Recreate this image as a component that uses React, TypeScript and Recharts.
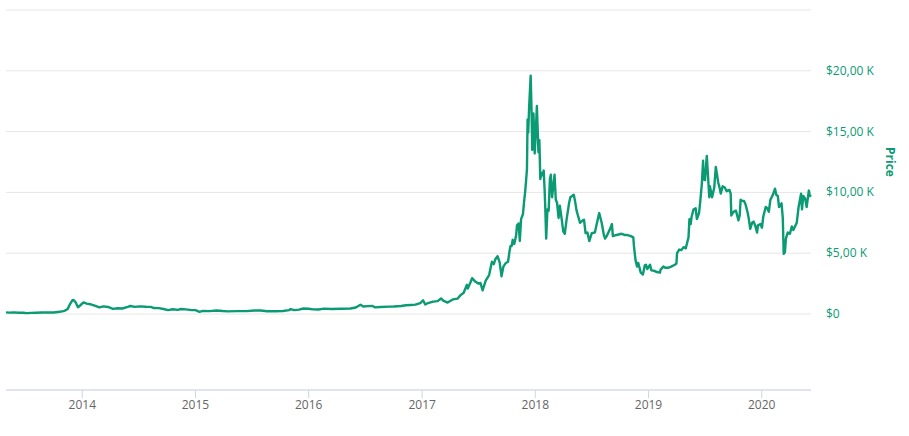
import { LineChart, Line, XAxis, YAxis, CartesianGrid, Label } from 'recharts';

const GREEN = '#0a9a74';
const FONT = '"Open Sans", sans-serif';

// daily-ish closing prices (USD)
const dates = [
  '2013-04-30', '2013-05-10', '2013-05-25', '2013-06-10', '2013-06-25', '2013-07-05', '2013-07-20', '2013-08-05',
  '2013-08-25', '2013-09-15', '2013-10-01', '2013-10-20', '2013-11-05', '2013-11-15', '2013-11-22', '2013-11-30',
  '2013-12-04', '2013-12-10', '2013-12-18', '2013-12-25', '2014-01-05', '2014-01-15', '2014-01-28', '2014-02-10',
  '2014-02-25', '2014-03-10', '2014-03-25', '2014-04-10', '2014-04-25', '2014-05-10', '2014-05-28', '2014-06-05',
  '2014-06-20', '2014-07-05', '2014-07-25', '2014-08-10', '2014-08-20', '2014-09-05', '2014-09-20', '2014-10-05',
  '2014-10-20', '2014-11-05', '2014-11-15', '2014-12-01', '2014-12-20', '2015-01-01', '2015-01-14', '2015-01-25',
  '2015-02-15', '2015-03-10', '2015-03-30', '2015-04-15', '2015-05-15', '2015-06-15', '2015-07-10', '2015-07-30',
  '2015-08-20', '2015-09-15', '2015-10-10', '2015-10-30', '2015-11-04', '2015-11-15', '2015-12-01', '2015-12-15',
  '2016-01-01', '2016-01-15', '2016-02-01', '2016-02-20', '2016-03-15', '2016-04-15', '2016-05-15', '2016-06-01',
  '2016-06-16', '2016-06-25', '2016-07-10', '2016-07-25', '2016-08-02', '2016-08-20', '2016-09-15', '2016-10-01',
  '2016-10-25', '2016-11-10', '2016-11-25', '2016-12-10', '2016-12-26', '2017-01-04', '2017-01-11', '2017-01-20',
  '2017-02-05', '2017-02-20', '2017-03-03', '2017-03-10', '2017-03-24', '2017-04-10', '2017-04-25', '2017-05-05',
  '2017-05-15', '2017-05-25', '2017-05-28', '2017-06-05', '2017-06-11', '2017-06-20', '2017-07-01', '2017-07-08',
  '2017-07-15', '2017-07-25', '2017-08-05', '2017-08-14', '2017-08-20', '2017-08-25', '2017-09-01', '2017-09-08',
  '2017-09-14', '2017-09-20', '2017-09-28', '2017-10-05', '2017-10-10', '2017-10-13', '2017-10-17', '2017-10-20',
  '2017-10-25', '2017-10-31', '2017-11-03', '2017-11-08', '2017-11-12', '2017-11-16', '2017-11-22', '2017-11-26',
  '2017-11-29', '2017-12-02', '2017-12-05', '2017-12-07', '2017-12-09', '2017-12-12', '2017-12-17', '2017-12-20',
  '2017-12-22', '2017-12-26', '2017-12-30', '2018-01-02', '2018-01-06', '2018-01-09', '2018-01-11', '2018-01-14',
  '2018-01-17', '2018-01-21', '2018-01-24', '2018-01-28', '2018-01-31', '2018-02-02', '2018-02-05', '2018-02-09',
  '2018-02-13', '2018-02-17', '2018-02-20', '2018-02-24', '2018-03-04', '2018-03-08', '2018-03-12', '2018-03-17',
  '2018-03-21', '2018-03-27', '2018-04-01', '2018-04-06', '2018-04-12', '2018-04-20', '2018-04-24', '2018-05-05',
  '2018-05-09', '2018-05-14', '2018-05-25', '2018-06-03', '2018-06-07', '2018-06-12', '2018-06-18', '2018-06-24',
  '2018-07-02', '2018-07-12', '2018-07-18', '2018-07-26', '2018-08-03', '2018-08-10', '2018-08-14', '2018-08-19',
  '2018-08-30', '2018-09-05', '2018-09-08', '2018-09-20', '2018-10-06', '2018-10-15', '2018-10-23', '2018-11-05',
  '2018-11-13', '2018-11-15', '2018-11-20', '2018-11-25', '2018-11-29', '2018-12-07', '2018-12-14', '2018-12-20',
  '2018-12-24', '2018-12-28', '2019-01-06', '2019-01-10', '2019-01-20', '2019-01-28', '2019-02-07', '2019-02-09',
  '2019-02-18', '2019-02-24', '2019-03-05', '2019-03-15', '2019-03-27', '2019-04-01', '2019-04-03', '2019-04-10',
  '2019-04-17', '2019-04-24', '2019-05-01', '2019-05-05', '2019-05-10', '2019-05-13', '2019-05-17', '2019-05-20',
  '2019-05-26', '2019-06-02', '2019-06-06', '2019-06-13', '2019-06-17', '2019-06-22', '2019-06-26', '2019-06-28',
  '2019-07-02', '2019-07-08', '2019-07-16', '2019-07-18', '2019-07-25', '2019-08-01', '2019-08-06', '2019-08-14',
  '2019-08-19', '2019-08-22', '2019-08-28', '2019-09-04', '2019-09-10', '2019-09-19', '2019-09-23', '2019-09-25',
  '2019-10-02', '2019-10-10', '2019-10-18', '2019-10-22', '2019-10-25', '2019-10-29', '2019-11-05', '2019-11-10',
  '2019-11-16', '2019-11-20', '2019-11-25', '2019-12-01', '2019-12-06', '2019-12-12', '2019-12-17', '2019-12-20',
  '2019-12-28', '2020-01-02', '2020-01-06', '2020-01-14', '2020-01-19', '2020-01-24', '2020-01-29', '2020-02-06',
  '2020-02-13', '2020-02-17', '2020-02-22', '2020-02-26', '2020-03-05', '2020-03-09', '2020-03-12', '2020-03-16',
  '2020-03-19', '2020-03-25', '2020-04-01', '2020-04-07', '2020-04-12', '2020-04-23', '2020-04-29', '2020-05-07',
  '2020-05-10', '2020-05-14', '2020-05-20', '2020-05-25', '2020-06-01', '2020-06-04', '2020-06-08',
];

const prices = [
  135, 115, 130, 105, 100, 70, 90, 105,
  120, 128, 125, 180, 260, 420, 800, 1130,
  1150, 980, 560, 700, 950, 850, 800, 680,
  540, 630, 580, 420, 470, 450, 580, 660,
  590, 630, 600, 590, 490, 480, 410, 320,
  390, 340, 410, 380, 320, 315, 180, 260,
  235, 290, 245, 220, 237, 240, 290, 285,
  230, 230, 245, 320, 400, 320, 360, 450,
  430, 380, 375, 440, 415, 430, 455, 535,
  760, 620, 650, 655, 545, 580, 610, 615,
  655, 715, 740, 770, 900, 1130, 780, 900,
  1020, 1060, 1280, 1100, 940, 1200, 1260, 1550,
  1750, 2400, 2100, 2550, 2950, 2700, 2500, 2550,
  1950, 2750, 3200, 4300, 4100, 4500, 4750, 4250,
  3100, 3900, 4200, 4300, 5200, 5600, 5600, 6100,
  5750, 6450, 7300, 7450, 6000, 7800, 8200, 9300,
  10000, 10900, 11900, 16000, 14900, 17000, 19600, 16500,
  13500, 16500, 13200, 14700, 17100, 14900, 13300, 14300,
  11100, 11600, 11400, 11800, 10200, 8800, 6200, 8600,
  8500, 11100, 11450, 9600, 11450, 9400, 9150, 7900,
  8900, 7800, 6800, 6600, 7800, 9150, 9600, 9800,
  9300, 8500, 7500, 7700, 7750, 6650, 6700, 6000,
  6650, 6700, 7400, 8300, 7500, 6500, 6200, 6400,
  7000, 7400, 6400, 6500, 6600, 6500, 6500, 6400,
  6300, 5600, 4450, 3900, 4200, 3400, 3250, 4000,
  4050, 3700, 4050, 3600, 3550, 3450, 3400, 3650,
  3900, 3800, 3800, 3900, 4050, 4150, 5000, 5300,
  5250, 5500, 5400, 5800, 6300, 7800, 7400, 8000,
  8600, 8700, 7800, 8300, 9300, 10700, 12600, 11100,
  11000, 13000, 9600, 10500, 9600, 10400, 12100, 10800,
  10300, 9900, 10500, 10400, 10100, 10200, 9900, 8100,
  8400, 8500, 7700, 8100, 9400, 9300, 9300, 9000,
  8400, 7900, 7000, 7500, 7600, 7200, 6700, 7300,
  7400, 7100, 8000, 8800, 8700, 8400, 9400, 9800,
  10300, 9800, 9700, 8800, 9100, 7900, 4950, 5100,
  6200, 6700, 6600, 7200, 6900, 7500, 8800, 9900,
  8600, 9700, 9500, 8800, 10150, 9700, 9800,
];

const yearTicks = [2014, 2015, 2016, 2017, 2018, 2019, 2020];
const priceTicks = [0, 5000, 10000, 15000, 20000, 25000];

const data = dates.map((d, i) => ({ t: Date.parse(d), price: prices[i] }));
const xTicks = yearTicks.map((y) => Date.UTC(y, 0, 1));

const formatPrice = (v: number) => {
  if (v === 0) return '$0';
  return '$' + (v / 1000).toFixed(2).replace('.', ',') + ' K';
};

function PriceTick({ x, y, payload }: any) {
  // top gridline has no label
  if (payload.value >= 25000) return <g />;
  return (
    <text x={x} y={y} dy={4} fill={GREEN} fontSize={12} fontFamily={FONT} textAnchor="start">
      {formatPrice(payload.value)}
    </text>
  );
}

export default function App() {
  return (
    <div style={{ position: 'absolute', left: 0, top: 0, background: '#fff' }}>
      <LineChart width={909} height={436} data={data} margin={{ top: 10, right: 0, bottom: 0, left: 6 }}>
        <CartesianGrid vertical={false} stroke="#e6e6e6" />
        <XAxis
          dataKey="t"
          type="number"
          domain={['dataMin', 'dataMax']}
          ticks={xTicks}
          interval={0}
          tickFormatter={(v: number) => String(new Date(v).getUTCFullYear())}
          height={46}
          axisLine={{ stroke: '#ccd6eb' }}
          tickLine={{ stroke: '#ccd6eb' }}
          tickSize={8}
          tick={{ fill: '#666666', fontSize: 12, fontFamily: FONT }}
        />
        <YAxis
          orientation="right"
          type="number"
          domain={[-6250, 25000]}
          ticks={priceTicks}
          interval={0}
          width={98}
          axisLine={false}
          tickLine={false}
          tickSize={6}
          tickMargin={9}
          tick={<PriceTick />}
        >
          <Label
            content={() => (
              <text
                x={890}
                y={162}
                transform="rotate(90, 890, 162)"
                textAnchor="middle"
                dy="0.35em"
                fill={GREEN}
                fontSize={12}
                fontWeight="bold"
                fontFamily={FONT}
              >
                Price
              </text>
            )}
          />
        </YAxis>
        <Line
          type="linear"
          dataKey="price"
          stroke={GREEN}
          strokeWidth={2.4}
          strokeLinejoin="round"
          dot={false}
          isAnimationActive={false}
        />
      </LineChart>
    </div>
  );
}
